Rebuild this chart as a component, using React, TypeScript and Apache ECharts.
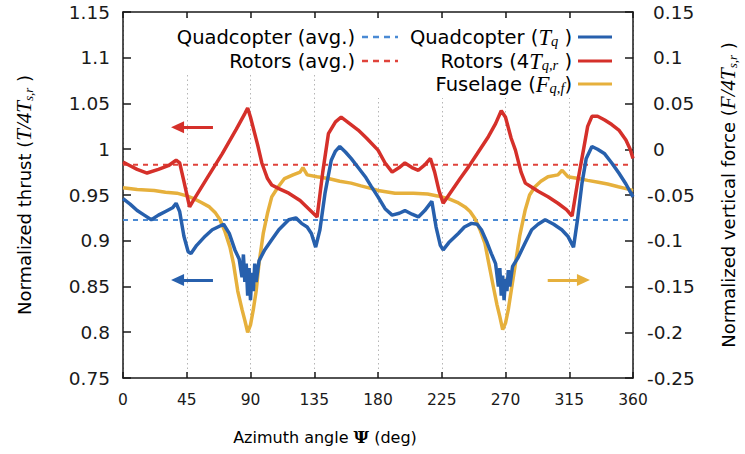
import React, { useEffect, useRef } from "react";
import * as echarts from "echarts";

// ---- data ----
const xTicks = [0, 45, 90, 135, 180, 225, 270, 315, 360];

const quadAvg = 0.9227; // left axis
const rotorAvg = 0.983; // left axis

const rotorAngles = [0, 5, 10, 17, 25, 32, 37.5, 40, 43, 47, 50, 60, 70, 80, 86, 88, 90, 95, 98, 102, 105, 110, 117, 125, 133, 137, 141, 145, 150, 154, 160, 166, 172, 180, 185, 190, 195, 199, 204, 208.5, 213, 217, 220, 223, 226, 230, 238, 244, 250, 258, 263, 267, 270, 274, 277, 281, 284, 290, 293, 300, 307, 313, 317, 321, 325, 328, 331, 335, 340, 345, 350, 355, 358, 360];
const rotorValues = [0.986, 0.982, 0.978, 0.974, 0.978, 0.982, 0.988, 0.985, 0.965, 0.937, 0.945, 0.97, 0.995, 1.022, 1.039, 1.045, 1.035, 1.005, 0.985, 0.968, 0.961, 0.957, 0.952, 0.944, 0.932, 0.926, 0.975, 1.017, 1.03, 1.035, 1.028, 1.021, 1.012, 0.999, 0.985, 0.975, 0.98, 0.985, 0.98, 0.977, 0.983, 0.99, 0.975, 0.955, 0.941, 0.95, 0.968, 0.981, 0.995, 1.014, 1.028, 1.042, 1.035, 1.012, 0.999, 0.975, 0.963, 0.957, 0.954, 0.948, 0.941, 0.934, 0.927, 0.965, 0.999, 1.025, 1.036, 1.036, 1.032, 1.027, 1.021, 1.01, 1.0, 0.99];

const quadAngles = [0, 5, 10, 15, 20, 25, 30, 35, 37.5, 40, 43, 46, 48, 52, 58, 63, 67, 71, 75, 79, 82, 84, 85, 86, 87, 88, 89, 90, 91, 92, 93, 94, 96, 100, 105, 110, 117, 122, 126, 130, 133, 136, 139, 142.6, 147, 150, 153, 157, 161, 166, 171, 175, 180, 185, 190, 195, 199, 204, 208.5, 213, 218, 221, 224, 226, 230, 236.7, 241, 246, 250, 253, 257, 260, 263, 265, 266, 267, 268, 269, 270, 271, 272, 273, 275, 279, 284, 288.5, 293, 298, 304, 309.7, 314, 318, 321, 324, 327, 331, 335, 340, 345, 350, 355, 360];
const quadValues = [0.946, 0.94, 0.933, 0.928, 0.923, 0.928, 0.932, 0.936, 0.941, 0.932, 0.905, 0.888, 0.886, 0.895, 0.905, 0.912, 0.915, 0.918, 0.908, 0.89, 0.88, 0.86, 0.885, 0.855, 0.875, 0.84, 0.87, 0.835, 0.865, 0.845, 0.875, 0.855, 0.878, 0.89, 0.901, 0.912, 0.923, 0.925, 0.919, 0.915, 0.908, 0.893, 0.912, 0.952, 0.988, 0.998, 1.003, 0.997, 0.99, 0.98, 0.97, 0.96, 0.948, 0.935, 0.928, 0.93, 0.933, 0.929, 0.926, 0.933, 0.943, 0.915, 0.895, 0.89, 0.898, 0.908, 0.915, 0.919, 0.918, 0.912, 0.898, 0.886, 0.875, 0.85, 0.87, 0.84, 0.862, 0.835, 0.858, 0.845, 0.868, 0.85, 0.872, 0.882, 0.898, 0.912, 0.918, 0.923, 0.918, 0.912, 0.905, 0.893, 0.925, 0.963, 0.99, 1.003, 1.0, 0.995, 0.985, 0.974, 0.962, 0.948];

// fuselage force, right axis
const fuseAngles = [0, 10, 22, 30, 38, 45, 50, 55, 61, 65, 68.5, 72, 75.5, 78, 81, 84, 86, 88, 90, 92, 94, 96, 99, 102, 105, 109.6, 114, 120, 125, 127, 130, 137, 145, 153, 161, 168, 175.5, 180, 192, 205, 215, 222, 229.7, 236, 241.4, 245, 248.5, 252, 255.5, 258, 261.4, 264, 266, 268, 270, 272, 274, 276.7, 280, 283.8, 287, 290.8, 295, 300, 307, 310, 314, 321.4, 328, 335.5, 342, 349.6, 355, 360];
const fuseValues = [-0.042, -0.044, -0.045, -0.047, -0.048, -0.051, -0.054, -0.058, -0.063, -0.069, -0.077, -0.09, -0.107, -0.125, -0.155, -0.175, -0.187, -0.2, -0.192, -0.175, -0.155, -0.125, -0.092, -0.07, -0.052, -0.041, -0.032, -0.028, -0.025, -0.02, -0.028, -0.03, -0.032, -0.035, -0.037, -0.04, -0.043, -0.045, -0.048, -0.048, -0.049, -0.051, -0.054, -0.058, -0.063, -0.068, -0.076, -0.088, -0.103, -0.123, -0.15, -0.17, -0.183, -0.197, -0.19, -0.175, -0.155, -0.128, -0.095, -0.067, -0.05, -0.041, -0.035, -0.03, -0.028, -0.023, -0.03, -0.032, -0.034, -0.036, -0.038, -0.041, -0.043, -0.045];

// annotation arrows [fromAngle, toAngle, value]
const rotorArrow = [63.5, 38.5, 1.024];
const quadArrow = [63.5, 38.5, 0.857];
const fuseArrow = [299.8, 325, -0.143];

const BLUE = "#2760ad";
const RED = "#d5302a";
const ORANGE = "#e6b03c";
const BLUE_D = "#4a8ad4";
const RED_D = "#e0433b";
const SANS = "DejaVu Sans";
const MATH = "Liberation Serif";

const zip = (a: number[], b: number[]) => a.map((x, i) => [x, b[i]]);

function arrowMark(a: number[], color: string) {
  return {
    silent: true,
    symbol: ["none", "triangle"],
    symbolSize: [12, 13],
    label: { show: false },
    emphasis: { disabled: true },
    lineStyle: { color, width: 3, type: "solid" },
    data: [[{ coord: [a[0], a[2]] }, { coord: [a[1], a[2]] }]],
  };
}

const makeRich = (size: number) => ({
  n: { fontFamily: SANS, fontSize: size, color: "#111", lineHeight: size + 2 },
  i: { fontFamily: MATH, fontStyle: "italic", fontSize: size + 3, color: "#111", lineHeight: size + 2 },
  s: { fontFamily: MATH, fontStyle: "italic", fontSize: size - 5, color: "#111", lineHeight: size - 5, padding: [8, 0, 0, 0] },
});
const legendRich = makeRich(19.5);
const nameRich = makeRich(18);

export default function App() {
  const ref = useRef<HTMLDivElement>(null);
  useEffect(() => {
    if (!ref.current) return;
    const chart = echarts.init(ref.current, undefined, { renderer: "svg" });
    const axisLine = { show: true, onZero: false, lineStyle: { color: "#1a1a1a", width: 1.5 } };
    const legendText = (x: number, y: number, text: string) => ({
      type: "text",
      x,
      y,
      z: 10,
      style: { text, align: "right", verticalAlign: "middle", rich: legendRich },
    });
    const legendLine = (x1: number, x2: number, y: number, color: string, dashed: boolean) => ({
      type: "line",
      z: 10,
      shape: { x1, y1: y, x2, y2: y },
      style: { stroke: color, lineWidth: dashed ? 2.5 : 3, lineDash: dashed ? [6, 5] : null },
    });
    chart.setOption({
      animation: false,
      grid: { left: 123, right: 112, top: 12, bottom: 76 },
      xAxis: [
        {
          type: "value",
          min: xTicks[0],
          max: xTicks[xTicks.length - 1],
          interval: 45,
          position: "bottom",
          axisLine,
          axisTick: { show: true, inside: true, length: 6, lineStyle: { color: "#1a1a1a", width: 1.5 } },
          axisLabel: { fontFamily: SANS, fontSize: 15.5, color: "#1a1a1a", margin: 14 },
          splitLine: { show: true, lineStyle: { color: "#b5b5b5", type: [1.5, 3], width: 1 } },
        },
        {
          type: "value",
          min: xTicks[0],
          max: xTicks[xTicks.length - 1],
          interval: 45,
          position: "top",
          axisLine,
          axisTick: { show: true, inside: true, length: 6, lineStyle: { color: "#1a1a1a", width: 1.5 } },
          axisLabel: { show: false },
          splitLine: { show: false },
        },
      ],
      yAxis: [
        {
          type: "value",
          min: 0.75,
          max: 1.15,
          interval: 0.05,
          position: "left",
          axisLine,
          axisTick: { show: true, inside: true, length: 8, lineStyle: { color: "#1a1a1a", width: 1.5 } },
          axisLabel: { fontFamily: SANS, fontSize: 18.5, color: "#1a1a1a", margin: 13 },
          splitLine: { show: false },
        },
        {
          type: "value",
          min: -0.25,
          max: 0.15,
          interval: 0.05,
          position: "right",
          axisLine,
          axisTick: { show: true, inside: true, length: 8, lineStyle: { color: "#1a1a1a", width: 1.5 } },
          axisLabel: {
            margin: 14,
            formatter: (v: number) => {
              const s = String(Number(v.toFixed(2)));
              return v >= -1e-9 ? `{p|${s}}` : `{m|${s}}`;
            },
            rich: {
              p: { fontFamily: SANS, fontSize: 18.5, color: "#1a1a1a", padding: [0, 0, 0, 6] },
              m: { fontFamily: SANS, fontSize: 18.5, color: "#1a1a1a" },
            },
          },
          splitLine: { show: false },
        },
      ],
      series: [
        {
          name: "Quadcopter (avg.)",
          type: "line",
          data: [[0, quadAvg], [360, quadAvg]],
          symbol: "none",
          lineStyle: { color: BLUE_D, width: 2, type: [5, 5] },
          z: 2,
        },
        {
          name: "Rotors (avg.)",
          type: "line",
          data: [[0, rotorAvg], [360, rotorAvg]],
          symbol: "none",
          lineStyle: { color: RED_D, width: 2, type: [5, 5] },
          z: 2,
        },
        {
          name: "Fuselage",
          type: "line",
          yAxisIndex: 1,
          data: zip(fuseAngles, fuseValues),
          symbol: "none",
          lineStyle: { color: ORANGE, width: 3.5 },
          markLine: arrowMark(fuseArrow, ORANGE),
          z: 3,
        },
        {
          name: "Rotors",
          type: "line",
          data: zip(rotorAngles, rotorValues),
          symbol: "none",
          lineStyle: { color: RED, width: 3.5 },
          markLine: arrowMark(rotorArrow, RED),
          z: 4,
        },
        {
          name: "Quadcopter",
          type: "line",
          data: zip(quadAngles, quadValues),
          symbol: "none",
          lineStyle: { color: BLUE, width: 3.5 },
          markLine: arrowMark(quadArrow, BLUE),
          z: 5,
        },
      ],
      graphic: [
        { type: "rect", z: 1, shape: { x: 165, y: 19, width: 460, height: 53 }, style: { fill: "#fff" } },
        { type: "rect", z: 1, shape: { x: 370, y: 19, width: 255, height: 79 }, style: { fill: "#fff" } },
        legendText(355, 37, "{n|Quadcopter (avg.)}"),
        legendLine(362, 398, 37, BLUE_D, true),
        legendText(355, 61, "{n|Rotors (avg.)}"),
        legendLine(362, 398, 61, RED_D, true),
        legendText(572, 37, "{n|Quadcopter (}{i|T}{s|q}{n|\u00a0)}"),
        legendLine(578, 612, 37, BLUE, false),
        legendText(572, 61, "{n|Rotors (4}{i|T}{s|q,r}{n|\u00a0)}"),
        legendLine(578, 612, 61, RED, false),
        legendText(572, 84, "{n|Fuselage (}{i|F}{s|q,f}{n|)}"),
        legendLine(578, 612, 84, ORANGE, false),
        {
          type: "text",
          x: 24,
          y: 195,
          rotation: Math.PI / 2,
          z: 10,
          style: {
            text: "{n|Normalized thrust (}{i|T/4T}{s|s,r}{n|\u00a0)}",
            align: "center",
            verticalAlign: "middle",
            rich: nameRich,
          },
        },
        {
          type: "text",
          x: 728,
          y: 195,
          rotation: Math.PI / 2,
          z: 10,
          style: {
            text: "{n|Normalized vertical force (}{i|F/4T}{s|s,r}{n|\u00a0)}",
            align: "center",
            verticalAlign: "middle",
            rich: nameRich,
          },
        },
        {
          type: "text",
          x: 325,
          y: 437,
          z: 10,
          style: {
            text: "{n|Azimuth angle\u00a0}{g|\u03a8}{n|\u00a0(deg)}",
            align: "center",
            verticalAlign: "middle",
            rich: {
              n: { fontFamily: SANS, fontSize: 16, color: "#1a1a1a" },
              g: { fontFamily: "DejaVu Serif", fontSize: 17, fontWeight: "bold", color: "#1a1a1a" },
            },
          },
        },
      ],
    });
    return () => chart.dispose();
  }, []);
  return (
    <div
      ref={ref}
      style={{ position: "fixed", left: 0, top: 0, width: 745, height: 454, background: "#fff" }}
    />
  );
}
